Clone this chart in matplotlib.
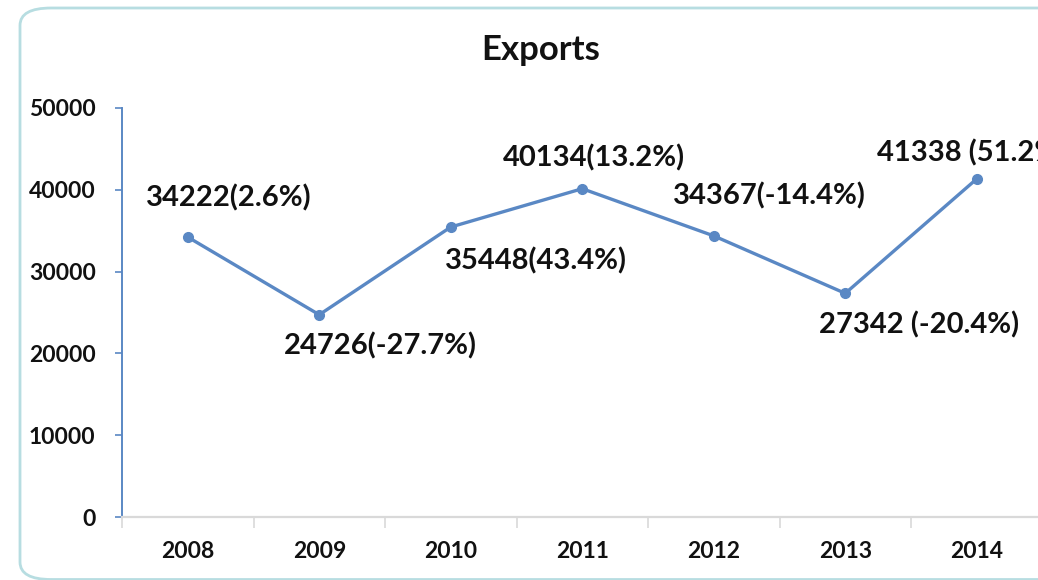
import matplotlib.pyplot as plt
from matplotlib.patches import FancyBboxPatch

# ── Data ───────────────────────────────────────────────────
years   = ["2008", "2009", "2010", "2011", "2012", "2013", "2014"]
exports = [34222, 24726, 35448, 40134, 34367, 27342, 41338]
growth  = ["2.6%", "-27.7%", "43.4%", "13.2%", "-14.4%", "-20.4%", "51.2%"]
seps    = ["", "", "", "", "", " ", " "]
yticks  = [0, 10000, 20000, 30000, 40000, 50000]

# label offsets in pixels (dx, dy) and alignment
offsets = [(41, 39), (61, -31), (85, -34), (12, 31), (56, 40), (74, -32), (-100, 26)]
aligns  = ["center", "center", "center", "center", "center", "center", "left"]

plt.rcParams["font.family"] = ["Lato", "DejaVu Sans"]

fig = plt.figure(figsize=(10.38, 5.8), dpi=100)

# rounded chart-area border (runs off the right / bottom edge)
border = FancyBboxPatch((20 / 1038, 0.5 / 580), 1.2, 571.5 / 580,
                        boxstyle="round,pad=0,rounding_size=0.03",
                        transform=fig.transFigure, fill=False,
                        edgecolor="#b7dde1", linewidth=2.0)
fig.patches.append(border)

ax = fig.add_axes([122 / 1038, 63 / 580, 920.5 / 1038, 409 / 580])
x = list(range(len(years)))

ax.plot(x, exports, color="#5a88c4", linewidth=2.4, marker="o",
        markersize=7, clip_on=False)

for i, (v, g, s) in enumerate(zip(exports, growth, seps)):
    dx, dy = offsets[i]
    ax.annotate(f"{v}{s}({g})", (i, v), xytext=(dx, dy),
                textcoords="offset pixels", ha=aligns[i], va="center",
                fontsize=21, fontweight="bold", color="#111111",
                annotation_clip=False)

ax.set_xlim(-0.5, len(years) - 0.5)
ax.set_ylim(0, 50000)
ax.set_yticks(yticks)
ax.set_yticklabels([str(t) for t in yticks])
ax.set_xticks(x)
ax.set_xticklabels(years)
ax.set_xticks([i - 0.5 for i in range(len(years) + 1)], minor=True)

ax.tick_params(axis="y", direction="out", length=5, width=1.2,
               color="#5a88c4", labelsize=16.5, pad=14)
ax.tick_params(axis="x", which="major", length=0, labelsize=16.5, pad=17)
ax.tick_params(axis="x", which="minor", direction="out", length=8,
               width=1.2, color="#d9d9d9")
for lab in ax.get_yticklabels() + ax.get_xticklabels():
    lab.set_fontweight("bold")
    lab.set_color("#111111")

for side in ["top", "right"]:
    ax.spines[side].set_visible(False)
ax.spines["left"].set_color("#5a88c4")
ax.spines["left"].set_linewidth(1.4)
ax.spines["bottom"].set_color("#d9d9d9")
ax.spines["bottom"].set_linewidth(1.6)

fig.text(541 / 1038, 1 - 50 / 580, "Exports", ha="center", va="center",
         fontsize=25, fontweight="bold", color="#111111")

fig.savefig("out.png", dpi=100)
